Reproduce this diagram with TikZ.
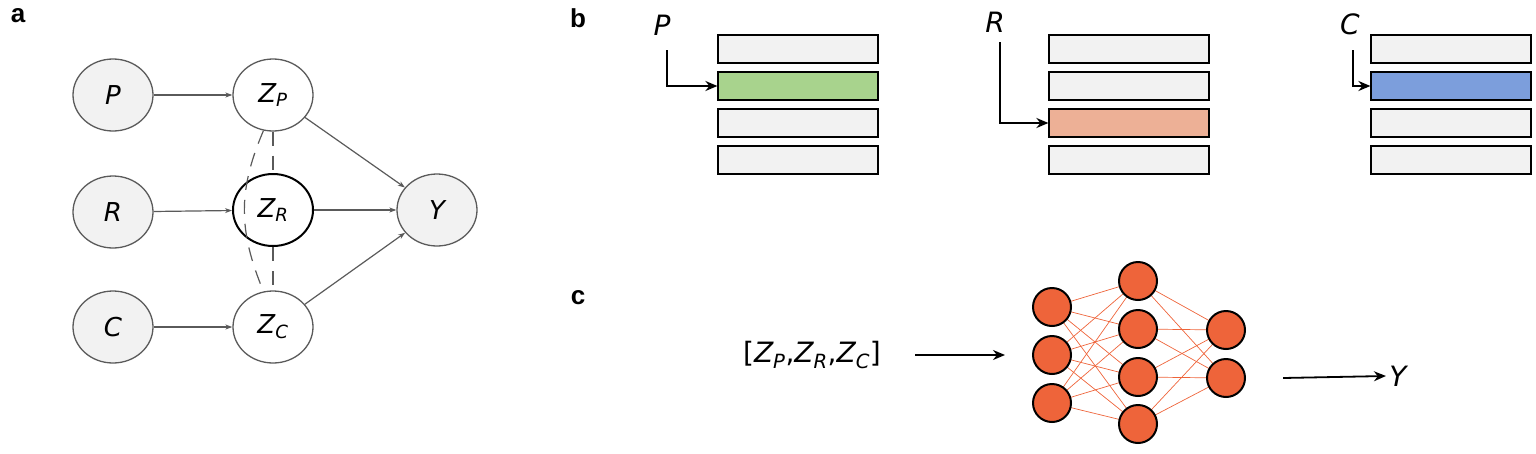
\documentclass[tikz,border=0pt]{standalone}
\usepackage{fontspec}
\setmainfont{DejaVu Sans}
\setsansfont{Liberation Sans}
\usetikzlibrary{arrows.meta,shapes.geometric}
\definecolor{lg}{HTML}{F2F2F2}
\definecolor{gr}{HTML}{5A5A5A}
\definecolor{nn}{HTML}{EE643A}
\tikzset{
  var/.style={ellipse,draw=gr,line width=1.3pt,minimum width=80pt,minimum height=72pt,inner sep=0pt,font=\fontsize{26}{28}\selectfont\itshape},
  obs/.style={var,fill=lg},
  lat/.style={var,fill=white},
  ed/.style={draw=gr,line width=1.2pt,-{Stealth[length=7pt,width=5pt]}},
  da/.style={draw=gr,line width=1.2pt,dash pattern=on 14pt off 10pt},
  bar/.style={draw=black,line width=1.2pt,fill=lg,minimum width=160pt,minimum height=28pt,inner sep=0pt},
  pt/.style={draw=black,line width=2pt,-{Stealth[length=12pt,width=10pt]}},
  lab/.style={font=\sffamily\bfseries\fontsize{26}{28}\selectfont},
  neu/.style={circle,draw=black,line width=2pt,fill=nn,minimum size=38pt,inner sep=0pt},
  wl/.style={draw=nn,line width=0.7pt},
  big/.style={font=\fontsize{28}{30}\selectfont\itshape}
}
\begin{document}
\begin{tikzpicture}[x=1pt,y=-1pt]
\useasboundingbox (0,0) rectangle (1536,453);
% labels
\node[lab] (la) at (18,16) {a};
\node[lab] (lb) at (578,18) {b};
\node[lab] (lc) at (578,298) {c};
% panel a
\node[obs] (P) at (113,95) {P};
\node[obs] (R) at (113,212) {R};
\node[obs] (C) at (113,327) {C};
\node[lat] (ZP) at (273,95) {Z\textsubscript{P}};
\node[lat,draw=black,line width=2pt] (ZR) at (273,210) {Z\textsubscript{R}};
\node[lat] (ZC) at (273,327) {Z\textsubscript{C}};
\node[obs] (Y) at (437,210) {Y};
\draw[ed] (P) -- (ZP);
\draw[ed] (R) -- (ZR);
\draw[ed] (C) -- (ZC);
\draw[ed] (ZP) -- (Y);
\draw[ed] (ZR) -- (Y);
\draw[ed] (ZC) -- (Y);
\draw[da] (ZP) -- (ZR);
\draw[da] (ZR) -- (ZC);
\draw[da] (ZP.255) .. controls (238,190) and (238,230) .. (ZC.105);
% panel b
\foreach \g/\x in {1/798,2/1129,3/1451}{
  \foreach \r/\y in {1/49,2/86,3/123,4/160}{
    \node[bar] (b\g\r) at (\x,\y) {};
  }
}
\node[bar,fill={rgb,255:red,168;green,211;blue,141}] (b12) at (798,86) {};
\node[bar,fill={rgb,255:red,237;green,176;blue,150}] (b23) at (1129,123) {};
\node[bar,fill={rgb,255:red,124;green,158;blue,220}] (b32) at (1451,86) {};
\node[big] (tP) at (662,25) {P};
\node[big] (tR) at (995,22) {R};
\node[big] (tC) at (1350,24) {C};
\coordinate (cP) at (667,86);
\coordinate (cR) at (1000,123);
\coordinate (cC) at (1353,86);
\draw[pt] (667,50) -- (cP) -- (b12.west);
\draw[pt] (1000,42) -- (cR) -- (b23.west);
\draw[pt] (1353,50) -- (cC) -- (b32.west);
% panel c
\node[font=\fontsize{28}{30}\selectfont] (vec) at (812,355) {[\textit{Z\textsubscript{P}},\textit{Z\textsubscript{R}},\textit{Z\textsubscript{C}}]};
\foreach \a/\ya in {1/307,2/355,3/403}{\foreach \b/\yb in {1/281,2/329,3/377,4/424}{\draw[wl] (1052,\ya) -- (1138,\yb);}}
\foreach \a/\ya in {1/281,2/329,3/377,4/424}{\foreach \b/\yb in {1/330,2/378}{\draw[wl] (1138,\ya) -- (1226,\yb);}}
\foreach \i/\y in {1/307,2/355,3/403}{\node[neu] (i\i) at (1052,\y) {};}
\foreach \i/\y in {1/281,2/329,3/377,4/424}{\node[neu] (h\i) at (1138,\y) {};}
\foreach \i/\y in {1/330,2/378}{\node[neu] (o\i) at (1226,\y) {};}
\coordinate (a1) at (915,355);
\coordinate (a2) at (1005,355);
\draw[pt,line width=1.8pt] (a1) -- (a2);
\node[big] (Yc) at (1398,376) {Y};
\coordinate (a3) at (1283,378);
\draw[pt,line width=1.8pt] (a3) -- (Yc.west);
\end{tikzpicture}
\end{document}
